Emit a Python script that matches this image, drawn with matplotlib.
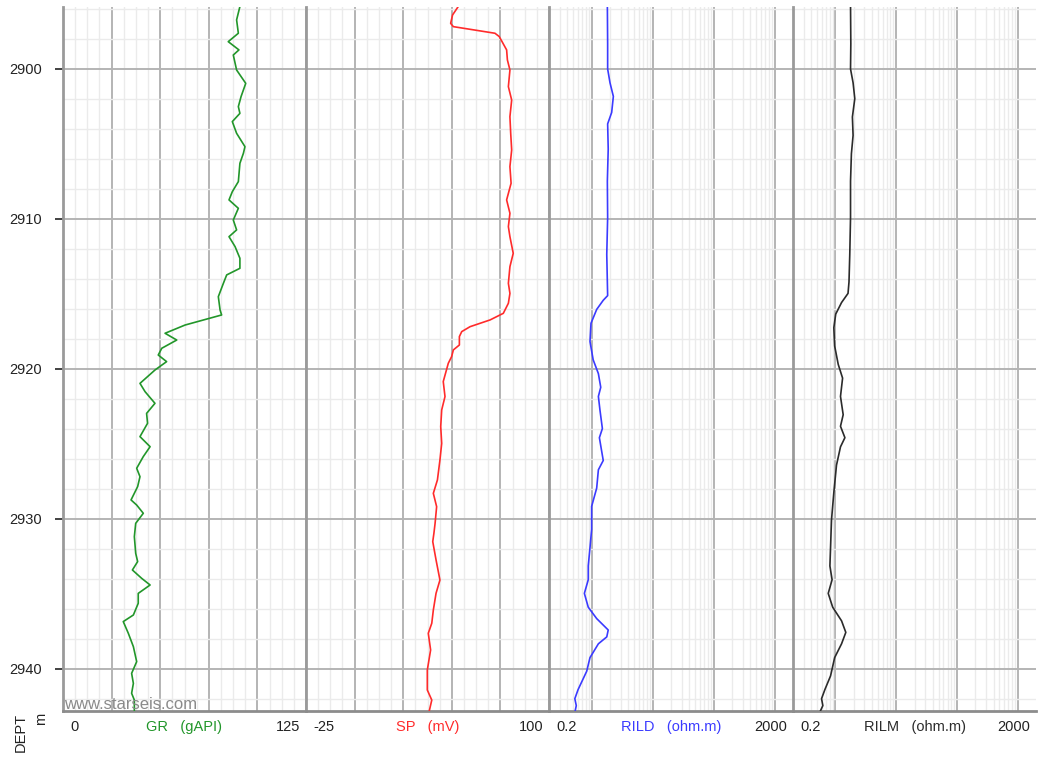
import numpy as np
import matplotlib
matplotlib.use("Agg")
import matplotlib.pyplot as plt
from matplotlib.ticker import FixedLocator, NullFormatter

plt.rcParams['font.family'] = ['Liberation Sans', 'DejaVu Sans']

# ---- log curves (depth in m) ----
gr_depth = [2895.84, 2896.73, 2897.62, 2898.18, 2898.73, 2899.07, 2900.07, 2900.96, 2901.84,
            2902.51, 2902.96, 2903.51, 2904.29, 2905.18, 2905.62, 2906.29, 2907.51, 2908.18,
            2908.73, 2909.29, 2910.07, 2910.73, 2911.18, 2911.84, 2912.62, 2913.29, 2913.73,
            2914.29, 2915.18, 2916.07, 2916.40, 2917.07, 2917.62, 2918.07, 2918.62, 2919.07,
            2919.51, 2920.07, 2920.96, 2921.51, 2922.29, 2922.96, 2923.62, 2924.51, 2925.18,
            2925.84, 2926.62, 2927.18, 2927.84, 2928.73, 2929.07, 2929.62, 2930.29, 2931.18,
            2932.29, 2932.84, 2933.40, 2933.96, 2934.40, 2934.96, 2935.62, 2936.40, 2936.84,
            2937.62, 2938.51, 2939.51, 2940.29, 2940.96, 2941.62, 2942.07, 2942.80]
gr_values = [91.0, 89.3, 90.2, 85.0, 90.5, 87.6, 89.3, 94.0, 91.6,
             90.2, 91.0, 87.1, 89.3, 93.6, 92.8, 91.0, 90.2, 87.1,
             85.4, 90.2, 87.6, 89.3, 85.4, 88.5, 91.0, 91.0, 84.2,
             82.5, 79.9, 80.8, 81.6, 62.8, 52.5, 58.5, 50.8, 49.0,
             53.3, 47.3, 39.6, 42.2, 47.3, 43.0, 43.5, 39.6, 44.8,
             41.3, 37.9, 39.6, 38.4, 35.0, 37.9, 41.3, 37.4, 36.7,
             37.4, 38.4, 35.7, 40.5, 44.8, 38.7, 38.7, 36.2, 31.0,
             33.6, 36.2, 37.9, 35.3, 36.2, 35.3, 36.7, 36.7]

sp_depth = [2895.84, 2896.40, 2896.96, 2897.18, 2897.62, 2897.84, 2898.73, 2899.40, 2900.07,
            2901.18, 2902.07, 2903.18, 2904.29, 2905.40, 2906.51, 2907.62, 2908.73, 2909.62,
            2910.51, 2911.18, 2912.29, 2913.18, 2914.29, 2914.96, 2915.62, 2916.29, 2916.73,
            2917.18, 2917.51, 2917.84, 2918.40, 2918.73, 2919.18, 2919.62, 2920.84, 2921.84,
            2922.73, 2923.84, 2924.96, 2926.07, 2927.40, 2928.29, 2929.18, 2930.29, 2930.95,
            2931.51, 2932.73, 2934.07, 2934.95, 2936.07, 2936.95, 2937.62, 2938.73, 2940.07,
            2941.40, 2942.07, 2942.80]
sp_values = [53.3, 50.4, 49.4, 50.8, 72.2, 74.4, 78.2, 78.6, 79.9,
             79.1, 80.8, 79.9, 80.3, 80.8, 79.9, 80.5, 78.2, 79.9,
             79.1, 79.9, 81.6, 79.9, 79.1, 79.9, 79.1, 76.5, 69.7,
             59.4, 55.1, 53.9, 53.9, 50.8, 49.9, 48.2, 45.6, 46.5,
             44.8, 44.3, 44.8, 43.9, 42.6, 40.5, 42.2, 41.4, 40.8,
             40.2, 41.9, 43.9, 41.9, 40.5, 39.7, 37.9, 39.1, 37.4,
             37.4, 39.7, 38.4]

rild_depth = [2895.73, 2898.32, 2900.00, 2900.92, 2901.83, 2902.90, 2903.66, 2905.34, 2907.48,
              2909.92, 2912.37, 2914.20, 2915.11, 2915.42, 2916.03, 2916.95, 2918.17, 2919.39,
              2920.31, 2921.22, 2921.83, 2922.75, 2923.97, 2924.58, 2925.19, 2926.10, 2926.72,
              2927.94, 2929.16, 2930.69, 2931.91, 2933.13, 2934.05, 2934.96, 2935.88, 2936.64,
              2937.40, 2937.86, 2938.32, 2939.24, 2940.15, 2941.37, 2941.98, 2942.44, 2942.90]
rild_values = [1.81, 1.83, 1.83, 2.00, 2.27, 2.13, 1.83, 1.87, 1.81,
               1.83, 1.77, 1.81, 1.83, 1.55, 1.21, 0.977, 0.94, 1.06,
               1.29, 1.41, 1.29, 1.37, 1.50, 1.34, 1.42, 1.55, 1.29,
               1.21, 1.00, 1.00, 0.94, 0.88, 0.88, 0.76, 0.88, 1.21,
               1.87, 1.77, 1.29, 0.94, 0.83, 0.60, 0.53, 0.56, 0.53]

rilm_depth = [2895.73, 2898.32, 2900.00, 2900.92, 2901.98, 2903.20, 2904.43, 2905.65, 2907.48,
              2909.92, 2912.37, 2914.20, 2914.96, 2915.57, 2916.34, 2917.25, 2918.47, 2919.69,
              2920.61, 2921.83, 2923.05, 2923.82, 2924.58, 2925.19, 2926.41, 2928.24, 2930.08,
              2931.91, 2933.13, 2934.05, 2934.96, 2935.88, 2936.79, 2937.56, 2938.32, 2939.24,
              2940.46, 2941.37, 2941.98, 2942.44, 2942.90]
rilm_values = [1.77, 1.79, 1.77, 1.95, 2.08, 1.90, 1.95, 1.83, 1.77,
               1.77, 1.72, 1.67, 1.61, 1.26, 1.01, 0.94, 0.97, 1.11,
               1.31, 1.21, 1.34, 1.21, 1.43, 1.21, 1.04, 0.94, 0.86,
               0.83, 0.81, 0.88, 0.76, 0.90, 1.26, 1.48, 1.26, 0.97,
               0.83, 0.67, 0.59, 0.62, 0.55]

depth_ticks = [2900, 2910, 2920, 2930, 2940]
depth_top, depth_bottom = 2895.87, 2942.8

tracks = [
    dict(mnem="GR", unit="(gAPI)", lo="0", hi="125", xmin=0, xmax=125, log=False,
         color="#22962a", depth=gr_depth, values=gr_values),
    dict(mnem="SP", unit="(mV)", lo="-25", hi="100", xmin=-25, xmax=100, log=False,
         color="#ff2b2b", depth=sp_depth, values=sp_values),
    dict(mnem="RILD", unit="(ohm.m)", lo="0.2", hi="2000", xmin=0.2, xmax=2000, log=True,
         color="#3b3bff", depth=rild_depth, values=rild_values),
    dict(mnem="RILM", unit="(ohm.m)", lo="0.2", hi="2000", xmin=0.2, xmax=2000, log=True,
         color="#2b2b2b", depth=rilm_depth, values=rilm_values),
]

W, H = 1039, 758
fig = plt.figure(figsize=(W / 100, H / 100), dpi=100)
edges = [63, 306, 549, 793, 1036]
y_top, y_bot = 7, 711

major_c, minor_c, border_c = "#b4b4b4", "#ebebeb", "#9a9a9a"

for i, tr in enumerate(tracks):
    x0, x1 = edges[i], edges[i + 1]
    ax = fig.add_axes([x0 / W, 1 - y_bot / H, (x1 - x0) / W, (y_bot - y_top) / H])
    if tr["log"]:
        ax.set_xscale("log")
        decades = [1, 10, 100, 1000]
        minors = [m * d for d in [0.1, 1, 10, 100, 1000] for m in range(2, 10)
                  if 0.2 < m * d < 2000 and m * d not in decades]
        ax.xaxis.set_major_locator(FixedLocator(decades))
        ax.xaxis.set_minor_locator(FixedLocator(minors))
    else:
        ax.xaxis.set_major_locator(FixedLocator(np.arange(tr["xmin"], tr["xmax"] + 0.1, 25)))
        ax.xaxis.set_minor_locator(FixedLocator(np.arange(tr["xmin"], tr["xmax"] + 0.1, 6.25)))
    ax.set_xlim(tr["xmin"], tr["xmax"])
    ax.set_ylim(depth_bottom, depth_top)
    ax.yaxis.set_major_locator(FixedLocator(depth_ticks))
    ax.yaxis.set_minor_locator(FixedLocator(np.arange(2896, 2943, 2)))

    ax.grid(True, which="minor", color=minor_c, lw=1.0, zorder=0)
    ax.grid(True, which="major", color=major_c, lw=1.4, zorder=0)
    ax.set_axisbelow(True)

    ax.xaxis.set_major_formatter(NullFormatter())
    ax.xaxis.set_minor_formatter(NullFormatter())
    ax.tick_params(axis="x", which="both", length=0)
    if i == 0:
        ax.tick_params(axis="y", which="major", length=6, width=1.3, color="#333333",
                       labelsize=10.5, pad=9, labelcolor="#222222")
        ax.tick_params(axis="y", which="minor", length=0)
        ax.set_yticklabels([str(d) for d in depth_ticks])
    else:
        ax.tick_params(axis="y", which="both", length=0, labelleft=False)

    for s in ["top", "right"]:
        ax.spines[s].set_visible(False)
    ax.spines["left"].set_color(border_c)
    ax.spines["left"].set_linewidth(2.0)
    ax.spines["bottom"].set_color("#8c8c8c")
    ax.spines["bottom"].set_linewidth(2.0)

    ax.plot(tr["values"], tr["depth"], color=tr["color"], lw=1.2, zorder=3,
            solid_joinstyle="round", clip_on=True)

    # scale annotation under the track
    ly = 1 - 727 / H
    fig.text((x0 + 7) / W, ly, tr["lo"], ha="left", va="center", fontsize=10.5, color="#222222")
    fig.text((x1 - 6) / W, ly, tr["hi"], ha="right", va="center", fontsize=10.5, color="#222222")
    fig.text((x0 + x1) / 2 / W, ly, tr["mnem"] + "   " + tr["unit"], ha="center", va="center",
             fontsize=10.5, color=tr["color"])

    if i == 0:
        ax.text(0.006, -0.002, "www.starseis.com", transform=ax.transAxes, fontsize=12,
                color="#8a8a8a", ha="left", va="bottom", zorder=4)

fig.text(21 / W, 1 - 713 / H, "DEPT", rotation=90, ha="center", va="top",
         fontsize=10.5, color="#222222")
fig.text(41 / W, 1 - 713 / H, "m", rotation=90, ha="center", va="top",
         fontsize=10.5, color="#222222")

fig.savefig("out.png", dpi=100, facecolor="white")
